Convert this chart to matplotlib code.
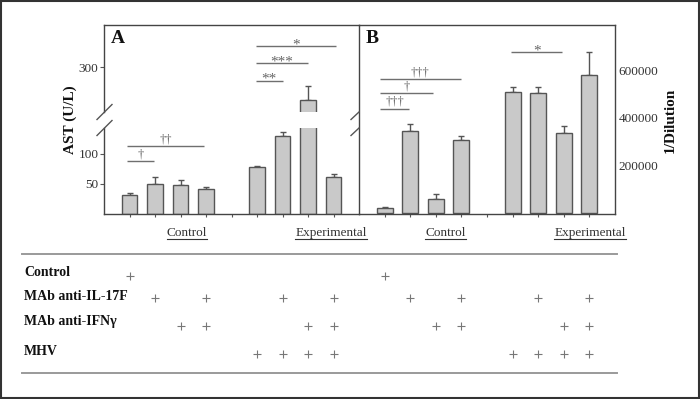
import matplotlib
matplotlib.use("Agg")
import matplotlib.pyplot as plt
import matplotlib.transforms as mtransforms
from matplotlib.lines import Line2D
from matplotlib.patches import Rectangle

plt.rcParams['font.family'] = ['Liberation Serif', 'DejaVu Serif']

# ---------------- data ----------------
positions = [0, 1, 2, 3, 5, 6, 7, 8]          # bar slots (slot 4 is empty)
tick_positions = [0, 1, 2, 3, 4, 5, 6, 7, 8]

ast_values = [31, 50, 49, 41, 78, 130, 245, 61]          # panel A, U/L
ast_errors = [4, 11, 7, 4, 2, 6, 24, 5]

dil_values = [18000, 345000, 57000, 304000, 509000, 504000, 337000, 581000]  # panel B
dil_errors = [4000, 29000, 23000, 20000, 20000, 25000, 26000, 95000]

ast_low_ticks = [50, 100]
ast_high_ticks = [300]
dil_ticks = [200000, 400000, 600000]

# significance brackets: (x_start, x_end, y, label)
sig_a_low = [(-0.11, 0.97, 88, "\u2020"), (-0.11, 2.93, 113, "\u2020\u2020")]
sig_a_high = [(4.96, 6.01, 276.7, "**"), (4.96, 7.01, 306, "***"), (4.96, 8.10, 334.5, "*")]
sig_b = [(-0.18, 2.97, 562000, "\u2020\u2020\u2020"), (-0.18, 1.90, 504000, "\u2020"),
         (-0.18, 0.97, 437700, "\u2020\u2020\u2020"), (4.95, 6.93, 675400, "*")]

row_labels = ["Control", "MAb anti-IL-17F", "MAb anti-IFN\u03b3", "MHV"]
cond_control = [1, 0, 0, 0, 0, 0, 0, 0]
cond_il17f = [0, 1, 0, 1, 0, 1, 0, 1]
cond_ifng = [0, 0, 1, 1, 0, 0, 1, 1]
cond_mhv = [0, 0, 0, 0, 1, 1, 1, 1]
conditions = [cond_control, cond_il17f, cond_ifng, cond_mhv]

group_labels = ["Control", "Experimental"]

# ---------------- layout helpers ----------------
W, H = 700, 399
def rect(x0, y0, x1, y1):
    return [x0 / W, 1 - y1 / H, (x1 - x0) / W, (y1 - y0) / H]
def fy(ypx):
    return 1 - ypx / H

fig = plt.figure(figsize=(7, 3.99), dpi=100)
fig.patch.set_facecolor('white')

DARK = '#444444'
EDGE = '#555555'
FACE = '#c9c9c9'
LINEC = '#6f6f6f'
TXT = '#333333'

axA_top = fig.add_axes(rect(104, 25, 359, 112))
axA_bot = fig.add_axes(rect(104, 128, 359, 214))
axB = fig.add_axes(rect(359, 25, 615, 214))

def draw_bars(ax, vals, errs):
    ax.bar(positions, vals, width=0.62, color=FACE, edgecolor=EDGE, linewidth=1.0, zorder=2)
    ax.errorbar(positions, vals, yerr=[[0] * len(errs), errs], fmt='none',
                ecolor=EDGE, elinewidth=1.0, capsize=2.4, capthick=1.0, zorder=1)

for ax in (axA_top, axA_bot, axB):
    ax.set_xlim(-1, 9)
    ax.set_facecolor('none')
    for s in ax.spines.values():
        s.set_color(DARK)
        s.set_linewidth(1.0)

draw_bars(axA_top, ast_values, ast_errors)
draw_bars(axA_bot, ast_values, ast_errors)
draw_bars(axB, dil_values, dil_errors)

axA_top.set_ylim(225, 370)
axA_bot.set_ylim(0, 143.3)
axB.set_ylim(-6200, 790400)

# spines
axA_top.spines['bottom'].set_visible(False)
axA_top.spines['right'].set_visible(False)
axA_bot.spines['top'].set_visible(False)
axA_bot.spines['right'].set_visible(False)

# ticks
axA_top.set_xticks([])
axA_top.set_yticks(ast_high_ticks)
axA_bot.set_yticks(ast_low_ticks)
for ax in (axA_top, axA_bot):
    ax.tick_params(axis='y', length=3.2, width=0.8, color=EDGE, pad=0.8,
                   labelsize=9.5, labelcolor=TXT)
for ax in (axA_bot, axB):
    ax.set_xticks(tick_positions)
    ax.set_xticklabels([])
    ax.tick_params(axis='x', length=2.5, width=0.8, color=EDGE, direction='out')

axB.yaxis.tick_right()
axB.set_yticks(dil_ticks)
axB.set_yticklabels([str(t) for t in dil_ticks])
axB.tick_params(axis='y', length=0, pad=2.5, labelsize=9.5, labelcolor=TXT)

# significance brackets
def draw_sig(ax, sigs):
    for (x0, x1, y, lab) in sigs:
        ax.plot([x0, x1], [y, y], color=LINEC, lw=1.0, solid_capstyle='butt', zorder=3)
        star = lab.startswith("*")
        ax.annotate(lab, xy=((x0 + x1) / 2, y), xytext=(0, -3.5 if star else 0.5),
                    textcoords='offset points', ha='center', va='bottom',
                    fontsize=11 if star else 9, color='#666666')

draw_sig(axA_bot, sig_a_low)
draw_sig(axA_top, sig_a_high)
draw_sig(axB, sig_b)

# panel letters
fig.text(111 / W, fy(38.5), "A", fontsize=14, fontweight='bold', ha='left', va='center', color='#111111')
fig.text(366 / W, fy(38.5), "B", fontsize=14, fontweight='bold', ha='left', va='center', color='#111111')

# axis labels
fig.text(70 / W, fy(120), "AST (U/L)", rotation=90, fontsize=11, fontweight='bold',
         ha='center', va='center', color='#111111')
fig.text(670 / W, fy(120), "1/Dilution", rotation=90, fontsize=11, fontweight='bold',
         ha='center', va='center', color='#111111')

# break marks
def fl(x0, y0, x1, y1, **kw):
    fig.add_artist(Line2D([x0 / W, x1 / W], [fy(y0), fy(y1)], transform=fig.transFigure, **kw))

for yc in (112, 128):
    fl(97, yc + 7.5, 112, yc - 7.5, color='#555555', lw=1.0)
    fl(351, yc + 7.5, 359, yc, color='#555555', lw=1.0)

# group labels (underlined)
group_pos = [(187, group_labels[0]), (331, group_labels[1]), (445.5, group_labels[0]), (590, group_labels[1])]
texts = []
for xc, lab in group_pos:
    t = fig.text(xc / W, fy(233), lab, fontsize=9.5, ha='center', va='center', color=TXT)
    texts.append(t)
fig.canvas.draw()
renderer = fig.canvas.get_renderer()
for t in texts:
    bb = t.get_window_extent(renderer)
    fig.add_artist(Line2D([bb.x0 / W, bb.x1 / W], [fy(238.5), fy(238.5)],
                          transform=fig.transFigure, color=TXT, lw=0.8))

# table lines
fl(22, 254.3, 617, 254.3, color='#9a9a9a', lw=1.4)
fl(22, 372.7, 617, 372.7, color='#9a9a9a', lw=1.4)

# table rows
label_y = [272.5, 296, 322, 351.5]
plus_y = [275.5, 297.5, 325.7, 354]
for lab, ly in zip(row_labels, label_y):
    fig.text(24 / W, fy(ly), lab, fontsize=10, fontweight='bold', ha='left', va='center', color='#111111')

for ax in (axA_bot, axB):
    tr = mtransforms.blended_transform_factory(ax.transData, fig.transFigure)
    for cond, py in zip(conditions, plus_y):
        xs = [p for p, c in zip(positions, cond) if c]
        ax.plot(xs, [fy(py)] * len(xs), linestyle='none', marker='+', markersize=5.5,
                markeredgewidth=0.8, color='#777777', transform=tr, clip_on=False)

# outer frame
fig.add_artist(Rectangle((1 / W, 1 / H), 697.5 / W, 396.5 / H, transform=fig.transFigure,
                         fill=False, lw=1.5, ec='#333333'))

fig.savefig("out.png", dpi=100, facecolor='white')
